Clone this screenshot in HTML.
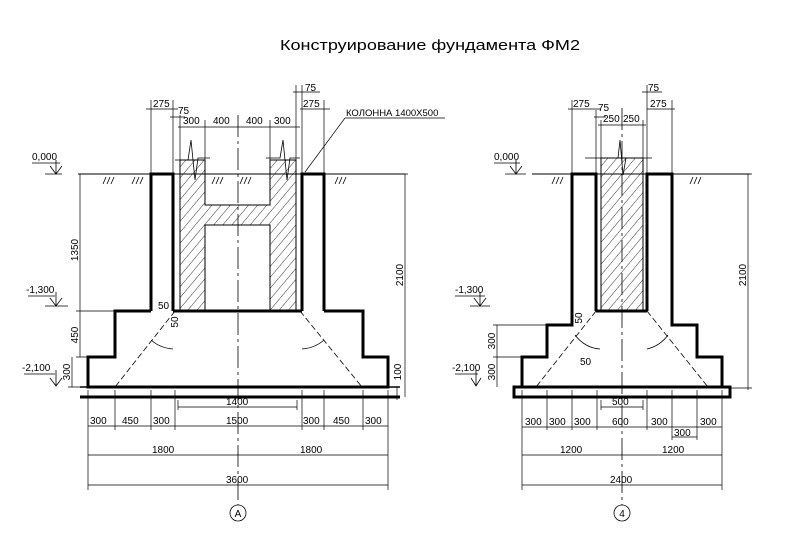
<!DOCTYPE html>
<html><head><meta charset="utf-8"><style>
html,body{margin:0;padding:0;background:#fff;}
svg{display:block;}
text{font-family:"Liberation Sans",sans-serif;font-size:10px;fill:#000;}
</style></head><body>
<svg width="808" height="536" viewBox="0 0 808 536" xmlns="http://www.w3.org/2000/svg">
<defs>
<pattern id="h" width="7" height="7" patternUnits="userSpaceOnUse" patternTransform="rotate(40)">
<line x1="0" y1="0" x2="0" y2="7" stroke="#000" stroke-width="0.8"/>
</pattern>
</defs>
<text x="430" y="50" text-anchor="middle" style="font-size:15px" textLength="300" lengthAdjust="spacingAndGlyphs">Конструирование фундамента ФМ2</text>

<g stroke="#000" fill="none">
<!-- LEFT DRAWING -->
<line x1="78" y1="174" x2="405" y2="174" stroke-width="1"/>
<!-- column H hatched -->
<path d="M180 160 H205 V205 H270 V160 H296 V310 H270 V225 H205 V310 H180 Z" fill="url(#h)" stroke-width="1"/>
<!-- glass walls thick -->
<path d="M151 311 V174 H173 V311" stroke-width="3"/>
<path d="M302 311 V174 H324 V311" stroke-width="3"/>
<!-- steps -->
<path d="M151 311 H115 V357 H88 V387 H388 V357 H363 V311 H324" stroke-width="3"/>
<line x1="173" y1="311" x2="302" y2="311" stroke-width="3"/>
<line x1="80" y1="397" x2="400" y2="397" stroke-width="3"/>
<line x1="80" y1="387" x2="400" y2="387" stroke-width="1.5"/>
<!-- center line -->
<line x1="238" y1="115" x2="238" y2="505" stroke-width="0.8" stroke-dasharray="22 4 3 4"/>
<!-- 45 deg dashed -->
<line x1="175" y1="311" x2="115" y2="387" stroke-width="0.8" stroke-dasharray="6 3"/>
<line x1="300" y1="311" x2="362" y2="387" stroke-width="0.8" stroke-dasharray="6 3"/>
<path d="M151 340 Q160 348 173 349" stroke-width="0.8"/>
<path d="M302 349 Q315 348 324 340" stroke-width="0.8"/>
<!-- break lines at column top -->
<path d="M175 160 H188 L191 140 L195 180 L198 158 H210" stroke-width="0.8"/>
<path d="M266 158 H280 L283 140 L287 180 L290 158 H300" stroke-width="0.8"/>
<!-- ground hatch -->
<path d="M103 184 L106 177 M107 184 L110 177 M111 184 L114 177 M132 184 L135 177 M136 184 L139 177 M140 184 L143 177 M212 184 L215 177 M216 184 L219 177 M220 184 L223 177 M240 184 L243 177 M244 184 L247 177 M248 184 L251 177 M335 184 L338 177 M339 184 L342 177 M343 184 L346 177" stroke-width="0.8"/>
<!-- extension lines top -->
<path d="M151 174 V100 M173 174 V100 M180 160 V115 M205 160 V120 M270 160 V120 M296 160 V85 M302 174 V85 M324 174 V100" stroke-width="0.7"/>
<path d="M146 109 H178 M170 117 H185 M178 127 H300 M293 92 H320 M300 109 H330" stroke-width="0.7"/>
<!-- vertical dims left -->
<path d="M80 174 V357 M72 357 V387 M76 357 H88 M76 311 H115 M68 387 H88" stroke-width="0.7"/>
<!-- right dims -->
<path d="M405 174 V397 M397 387 V400 M324 174 H408" stroke-width="0.7"/>
<!-- bottom dims -->
<path d="M88 390 V490 M115 390 V430 M151 390 V430 M175 390 V430 M302 390 V430 M324 390 V430 M363 390 V430 M388 390 V490 M178 400 V410 M297 400 V410" stroke-width="0.7"/>
<path d="M88 426 H388 M178 407 H297 M88 455 H388 M88 485 H388" stroke-width="0.7"/>
<circle cx="238" cy="513" r="8" stroke-width="0.8"/>
<!-- leader -->
<path d="M305 172 L345 118 H445" stroke-width="0.7"/>
<!-- level marks -->
<path d="M32 163 H60 M45 174 H62 M50 166 L56 174 L62 166 M56 174 V160" stroke-width="0.8"/>
<path d="M28 296 H55 M45 306 H68 M50 298 L56 306 L62 298 M56 306 V292" stroke-width="0.8"/>
<path d="M24 374 H55 M50 378 L56 386 L62 378 M56 386 V370" stroke-width="0.8"/>

<!-- RIGHT DRAWING -->
<line x1="532" y1="174" x2="750" y2="174" stroke-width="1"/>
<rect x="601" y="158" width="42" height="152" fill="url(#h)" stroke-width="1"/>
<path d="M585 158 H618 L620 140 L623 175 L626 158 H652" stroke-width="0.8"/>
<path d="M572 311 V174 H596 V311" stroke-width="3"/>
<path d="M647 311 V174 H672 V311" stroke-width="3"/>
<path d="M572 311 V325 H547 V357 H522 V387 H722 V357 H697 V325 H672 V311" stroke-width="3"/>
<line x1="596" y1="311" x2="647" y2="311" stroke-width="3"/>
<rect x="514" y="387" width="216" height="10" stroke-width="3"/>
<line x1="622" y1="108" x2="622" y2="505" stroke-width="0.8" stroke-dasharray="22 4 3 4"/>
<line x1="596" y1="311" x2="536" y2="387" stroke-width="0.8" stroke-dasharray="6 3"/>
<line x1="647" y1="311" x2="708" y2="387" stroke-width="0.8" stroke-dasharray="6 3"/>
<path d="M575 335 Q585 348 600 349" stroke-width="0.8"/>
<path d="M647 349 Q660 346 668 335" stroke-width="0.8"/>
<path d="M552 184 L555 177 M556 184 L559 177 M560 184 L563 177 M690 184 L693 177 M694 184 L697 177 M698 184 L701 177" stroke-width="0.8"/>
<path d="M572 174 V100 M596 174 V110 M601 158 V120 M643 158 V120 M647 174 V85 M672 174 V100" stroke-width="0.7"/>
<path d="M568 109 H600 M594 117 H606 M598 125 H646 M642 92 H662 M647 109 H675" stroke-width="0.7"/>
<path d="M748 174 V390 M672 174 H752 M722 388 H752" stroke-width="0.7"/>
<path d="M497 325 V387 M493 325 H547 M493 357 H522" stroke-width="0.7"/>
<path d="M522 390 V490 M547 390 V430 M572 390 V430 M597 390 V430 M647 390 V430 M672 390 V440 M697 390 V440 M722 390 V490 M601 400 V410 M643 400 V410" stroke-width="0.7"/>
<path d="M522 427 H722 M672 437 H697 M601 407 H643 M522 455 H722 M522 485 H722" stroke-width="0.7"/>
<circle cx="622" cy="513" r="8" stroke-width="0.8"/>
<path d="M494 163 H520 M505 174 H526 M510 166 L516 174 L522 166 M516 174 V160" stroke-width="0.8"/>
<path d="M455 296 H485 M470 306 H490 M474 298 L480 306 L486 298 M480 306 V292" stroke-width="0.8"/>
<path d="M455 374 H478 M471 378 L476 386 L481 378 M476 386 V370" stroke-width="0.8"/>
</g>

<!-- LEFT TEXT -->
<text x="153" y="107">275</text>
<text x="178" y="114">75</text>
<text x="183" y="124">300</text>
<text x="213" y="124">400</text>
<text x="246" y="124">400</text>
<text x="274" y="124">300</text>
<text x="305" y="91">75</text>
<text x="303" y="107">275</text>
<text x="346" y="116" style="font-size:9.5px">КОЛОННА 1400X500</text>
<text x="32" y="160">0,000</text>
<text x="26" y="293">-1,300</text>
<text x="22" y="371">-2,100</text>
<text x="158" y="309">50</text>
<text transform="translate(78 250) rotate(-90)" text-anchor="middle">1350</text>
<text transform="translate(78 335) rotate(-90)" text-anchor="middle">450</text>
<text transform="translate(70 372) rotate(-90)" text-anchor="middle">300</text>
<text transform="translate(178 322) rotate(-90)" text-anchor="middle">50</text>
<text transform="translate(403 275) rotate(-90)" text-anchor="middle">2100</text>
<text transform="translate(401 372) rotate(-90)" text-anchor="middle">100</text>
<text x="90" y="424">300</text><text x="122" y="424">450</text><text x="153" y="424">300</text>
<text x="226" y="424">1500</text><text x="303" y="424">300</text><text x="333" y="424">450</text><text x="365" y="424">300</text>
<text x="226" y="405">1400</text>
<text x="152" y="453">1800</text><text x="300" y="453">1800</text>
<text x="226" y="483">3600</text>
<text x="238" y="517" text-anchor="middle">A</text>

<!-- RIGHT TEXT -->
<text x="573" y="107">275</text>
<text x="598" y="111">75</text>
<text x="603" y="122">250</text>
<text x="623" y="122">250</text>
<text x="648" y="91">75</text>
<text x="650" y="107">275</text>
<text x="494" y="160">0,000</text>
<text x="455" y="293">-1,300</text>
<text x="452" y="371">-2,100</text>
<text x="580" y="365">50</text>
<text transform="translate(495 341) rotate(-90)" text-anchor="middle">300</text>
<text transform="translate(495 372) rotate(-90)" text-anchor="middle">300</text>
<text transform="translate(582 318) rotate(-90)" text-anchor="middle">50</text>
<text transform="translate(746 275) rotate(-90)" text-anchor="middle">2100</text>
<text x="525" y="425">300</text><text x="549" y="425">300</text><text x="574" y="425">300</text>
<text x="612" y="425">600</text><text x="651" y="425">300</text><text x="700" y="425">300</text>
<text x="674" y="436">300</text>
<text x="612" y="405">500</text>
<text x="560" y="453">1200</text><text x="662" y="453">1200</text>
<text x="610" y="483">2400</text>
<text x="622" y="517" text-anchor="middle">4</text>
</svg>
</body></html>
